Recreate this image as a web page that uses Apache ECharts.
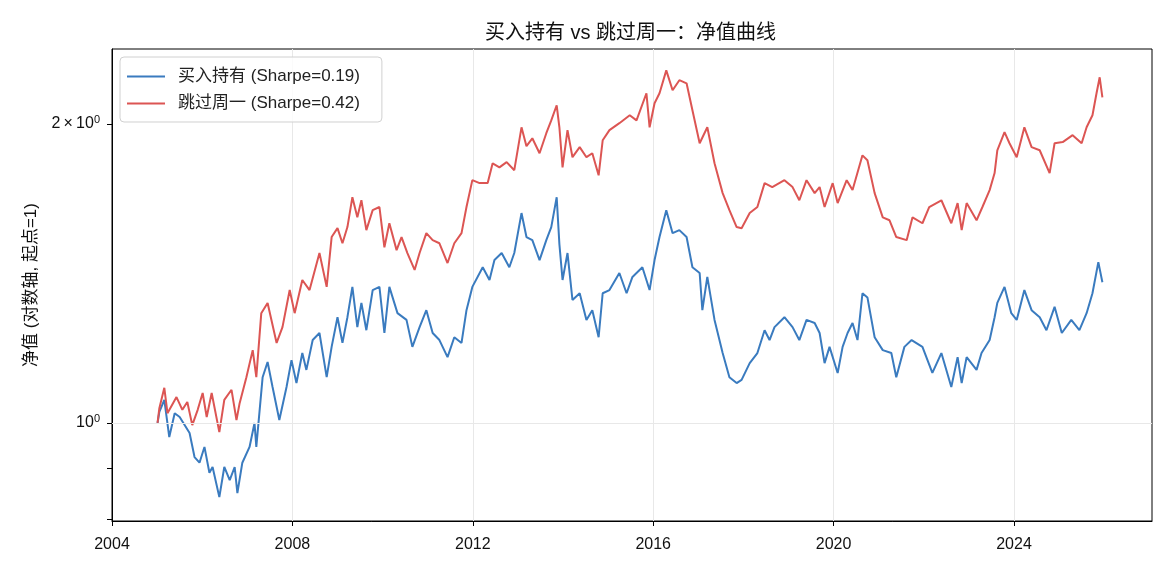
<!DOCTYPE html>
<html lang="zh">
  <head>
    <meta charset="UTF-8" />
    <title>买入持有 vs 跳过周一</title>
    <style>
      html, body { margin: 0; padding: 0; background: #fff; }
    </style>
  </head>
  <body>
    <div id="main" style="width: 1170px; height: 572px"></div>
    <script src="https://cdn.jsdelivr.net/npm/echarts@6/dist/echarts.min.js"></script>
    <script>
      // 买入持有 净值
      const bhYears = [
        2005.01, 2005.05, 2005.16, 2005.27, 2005.39, 2005.50, 2005.72, 2005.83, 2005.94, 2006.05,
        2006.16, 2006.23, 2006.38, 2006.49, 2006.61, 2006.72, 2006.78, 2006.89, 2007.05, 2007.16,
        2007.20, 2007.34, 2007.45, 2007.56, 2007.71, 2007.87, 2007.98, 2008.09, 2008.22, 2008.31,
        2008.45, 2008.60, 2008.76, 2008.87, 2009.00, 2009.11, 2009.22, 2009.33, 2009.44, 2009.53,
        2009.64, 2009.78, 2009.93, 2010.04, 2010.15, 2010.33, 2010.53, 2010.66, 2010.82, 2010.97,
        2011.11, 2011.26, 2011.44, 2011.59, 2011.75, 2011.86, 2011.99, 2012.22, 2012.37, 2012.48,
        2012.64, 2012.81, 2012.92, 2013.08, 2013.19, 2013.32, 2013.48, 2013.63, 2013.74, 2013.86,
        2013.92, 2013.99, 2014.10, 2014.21, 2014.37, 2014.52, 2014.65, 2014.79, 2014.88, 2015.03,
        2015.25, 2015.41, 2015.54, 2015.76, 2015.92, 2016.03, 2016.14, 2016.29, 2016.43, 2016.58,
        2016.74, 2016.87, 2017.03, 2017.09, 2017.20, 2017.36, 2017.54, 2017.69, 2017.85, 2017.96,
        2018.14, 2018.31, 2018.47, 2018.58, 2018.69, 2018.91, 2019.09, 2019.24, 2019.40, 2019.58,
        2019.69, 2019.80, 2019.91, 2020.09, 2020.20, 2020.31, 2020.42, 2020.53, 2020.64, 2020.75,
        2020.91, 2021.09, 2021.28, 2021.39, 2021.57, 2021.73, 2021.97, 2022.19, 2022.39, 2022.61,
        2022.75, 2022.84, 2022.95, 2023.17, 2023.28, 2023.46, 2023.57, 2023.63, 2023.79, 2023.94,
        2024.06, 2024.23, 2024.39, 2024.57, 2024.72, 2024.90, 2025.06, 2025.27, 2025.45, 2025.61,
        2025.74, 2025.87, 2025.96
      ]
      const bhNav = [
        1.000, 1.026, 1.055, 0.968, 1.023, 1.014, 0.977, 0.924, 0.912, 0.946,
        0.891, 0.903, 0.842, 0.903, 0.876, 0.903, 0.850, 0.912, 0.946, 1.000,
        0.946, 1.112, 1.152, 1.087, 1.007, 1.087, 1.157, 1.097, 1.176, 1.131,
        1.212, 1.232, 1.112, 1.193, 1.278, 1.204, 1.278, 1.371, 1.249, 1.321,
        1.240, 1.361, 1.371, 1.232, 1.371, 1.290, 1.270, 1.193, 1.249, 1.299,
        1.232, 1.212, 1.165, 1.220, 1.204, 1.299, 1.371, 1.435, 1.393, 1.459,
        1.483, 1.435, 1.483, 1.627, 1.539, 1.528, 1.459, 1.528, 1.575, 1.688,
        1.514, 1.393, 1.483, 1.330, 1.351, 1.270, 1.299, 1.220, 1.351, 1.361,
        1.416, 1.351, 1.403, 1.435, 1.361, 1.459, 1.539, 1.638, 1.553, 1.564,
        1.539, 1.435, 1.416, 1.299, 1.403, 1.270, 1.176, 1.112, 1.097, 1.105,
        1.149, 1.176, 1.240, 1.212, 1.249, 1.278, 1.249, 1.212, 1.270, 1.261,
        1.232, 1.149, 1.193, 1.123, 1.193, 1.232, 1.261, 1.212, 1.351, 1.338,
        1.220, 1.184, 1.176, 1.112, 1.193, 1.212, 1.193, 1.123, 1.176, 1.087,
        1.165, 1.097, 1.165, 1.131, 1.176, 1.212, 1.278, 1.321, 1.371, 1.290,
        1.270, 1.361, 1.299, 1.278, 1.240, 1.309, 1.232, 1.270, 1.240, 1.290,
        1.351, 1.452, 1.386
      ]

      // 跳过周一 净值
      const skipYears = [
        2005.01, 2005.05, 2005.16, 2005.23, 2005.43, 2005.56, 2005.67, 2005.78, 2005.90, 2006.01,
        2006.10, 2006.21, 2006.38, 2006.49, 2006.65, 2006.76, 2006.83, 2006.98, 2007.12, 2007.20,
        2007.31, 2007.45, 2007.65, 2007.78, 2007.94, 2008.05, 2008.22, 2008.38, 2008.60, 2008.76,
        2008.87, 2009.00, 2009.11, 2009.22, 2009.33, 2009.44, 2009.53, 2009.64, 2009.78, 2009.93,
        2010.04, 2010.15, 2010.31, 2010.42, 2010.55, 2010.71, 2010.82, 2010.97, 2011.11, 2011.26,
        2011.44, 2011.59, 2011.75, 2011.86, 2011.99, 2012.15, 2012.33, 2012.44, 2012.59, 2012.75,
        2012.92, 2013.08, 2013.19, 2013.32, 2013.48, 2013.63, 2013.74, 2013.86, 2013.92, 2013.99,
        2014.10, 2014.21, 2014.37, 2014.52, 2014.65, 2014.79, 2014.88, 2015.03, 2015.25, 2015.48,
        2015.63, 2015.85, 2015.92, 2016.03, 2016.14, 2016.29, 2016.43, 2016.58, 2016.74, 2016.87,
        2017.03, 2017.20, 2017.36, 2017.54, 2017.69, 2017.85, 2017.96, 2018.14, 2018.31, 2018.47,
        2018.64, 2018.91, 2019.09, 2019.24, 2019.40, 2019.58, 2019.69, 2019.80, 2019.98, 2020.09,
        2020.29, 2020.42, 2020.64, 2020.75, 2020.91, 2021.09, 2021.24, 2021.39, 2021.62, 2021.75,
        2021.97, 2022.12, 2022.39, 2022.61, 2022.75, 2022.84, 2022.95, 2023.17, 2023.30, 2023.46,
        2023.57, 2023.63, 2023.79, 2023.90, 2024.06, 2024.23, 2024.39, 2024.57, 2024.79, 2024.90,
        2025.08, 2025.30, 2025.50, 2025.61, 2025.74, 2025.83, 2025.90, 2025.96
      ]
      const skipNav = [
        1.000, 1.035, 1.085, 1.023, 1.062, 1.031, 1.050, 0.995, 1.031, 1.072,
        1.014, 1.072, 0.979, 1.055, 1.080, 1.007, 1.047, 1.112, 1.184, 1.112,
        1.290, 1.321, 1.204, 1.249, 1.361, 1.290, 1.393, 1.361, 1.483, 1.371,
        1.539, 1.571, 1.517, 1.575, 1.688, 1.611, 1.676, 1.564, 1.638, 1.650,
        1.503, 1.589, 1.493, 1.539, 1.483, 1.426, 1.483, 1.553, 1.528, 1.517,
        1.449, 1.517, 1.553, 1.650, 1.756, 1.744, 1.744, 1.826, 1.809, 1.831,
        1.797, 1.985, 1.900, 1.935, 1.869, 1.958, 2.017, 2.089, 1.985, 1.809,
        1.972, 1.852, 1.896, 1.852, 1.869, 1.776, 1.926, 1.972, 2.004, 2.041,
        2.017, 2.148, 1.985, 2.099, 2.148, 2.265, 2.163, 2.214, 2.198, 2.065,
        1.913, 1.985, 1.826, 1.704, 1.638, 1.575, 1.571, 1.627, 1.650, 1.744,
        1.728, 1.756, 1.728, 1.676, 1.756, 1.704, 1.728, 1.650, 1.744, 1.665,
        1.756, 1.716, 1.860, 1.839, 1.704, 1.611, 1.600, 1.539, 1.528, 1.611,
        1.589, 1.650, 1.676, 1.589, 1.665, 1.564, 1.665, 1.600, 1.650, 1.716,
        1.785, 1.882, 1.963, 1.913, 1.852, 1.985, 1.896, 1.882, 1.785, 1.913,
        1.918, 1.949, 1.913, 1.985, 2.041, 2.148, 2.229, 2.128
      ]

      const xTickYears = [2004, 2008, 2012, 2016, 2020, 2024]
      const yTickValues = [0.8, 0.9, 1, 2]
      const yLabelValues = [1, 2]

      const FONT = "'Liberation Sans', 'Noto Sans CJK SC', sans-serif"

      const chart = echarts.init(document.getElementById('main'), null, { renderer: 'canvas' })

      // 对数轴: 在 log10 空间中作图
      const toLog = (years, nav) => years.map((t, i) => [t, Math.log10(nav[i])])

      const option = {
        animation: false,
        textStyle: { fontFamily: FONT },
        title: {
          text: '买入持有 vs 跳过周一：净值曲线',
          left: 480,
          top: 18,
          textStyle: { fontFamily: FONT, fontSize: 20, fontWeight: 'normal', color: '#111' }
        },
        grid: {
          left: 112,
          right: 18,
          top: 49,
          bottom: 51,
          show: true,
          borderColor: '#000',
          borderWidth: 1
        },
        legend: {
          orient: 'vertical',
          left: 120,
          top: 57,
          padding: [11, 22, 10, 7],
          itemGap: 10,
          itemWidth: 38,
          itemHeight: 2,
          icon: 'rect',
          borderColor: '#d0d0d0',
          borderWidth: 1,
          borderRadius: 4,
          backgroundColor: 'rgba(255,255,255,0.8)',
          textStyle: { fontFamily: FONT, fontSize: 17, color: '#222', padding: [0, 0, 0, 8] }
        },
        xAxis: {
          type: 'value',
          min: 2004,
          max: 2027.06,
          interval: 4,
          axisLine: { onZero: false, lineStyle: { color: '#000', width: 1 } },
          axisTick: { customValues: xTickYears, length: 5, lineStyle: { color: '#000' } },
          axisLabel: {
            customValues: xTickYears,
            margin: 16,
            color: '#111',
            fontSize: 16,
            fontFamily: FONT,
            formatter: v => String(Math.round(v))
          },
          splitLine: { show: true, lineStyle: { color: '#e8e8e8', width: 1 } }
        },
        yAxis: {
          type: 'value',
          min: -0.0987,
          max: 0.3766,
          name: '净值 (对数轴, 起点=1)',
          nameLocation: 'middle',
          nameGap: 72,
          nameTextStyle: { fontFamily: FONT, fontSize: 17, color: '#111' },
          axisLine: { show: true, onZero: false, lineStyle: { color: '#000', width: 1 } },
          axisTick: {
            show: true,
            customValues: yTickValues.map(v => Math.log10(v)),
            length: 5,
            lineStyle: { color: '#000' }
          },
          axisLabel: {
            customValues: yLabelValues.map(v => Math.log10(v)),
            margin: 12,
            color: '#111',
            fontFamily: FONT,
            formatter: v => {
              const m = Math.round(Math.pow(10, v))
              return m === 1 ? '{b|10}{s|0}' : '{b|' + m + '\u2009×\u200910}{s|0}'
            },
            rich: {
              b: { fontSize: 16, fontFamily: FONT, color: '#111' },
              s: { fontSize: 11, fontFamily: FONT, color: '#111', verticalAlign: 'top', padding: [0, 0, 8, 0] }
            }
          },
          splitLine: { show: false }
        },
        series: [
          {
            name: '买入持有 (Sharpe=0.19)',
            type: 'line',
            data: toLog(bhYears, bhNav),
            symbol: 'none',
            lineStyle: { color: '#3a7bbf', width: 2 },
            itemStyle: { color: '#3a7bbf' },
            markLine: {
              silent: true,
              symbol: 'none',
              label: { show: false },
              lineStyle: { color: '#e8e8e8', width: 1, type: 'solid' },
              data: [{ yAxis: 0 }]
            },
            z: 3
          },
          {
            name: '跳过周一 (Sharpe=0.42)',
            type: 'line',
            data: toLog(skipYears, skipNav),
            symbol: 'none',
            lineStyle: { color: '#dc5553', width: 2 },
            itemStyle: { color: '#dc5553' },
            z: 4
          }
        ]
      }

      chart.setOption(option)
    </script>
  </body>
</html>
